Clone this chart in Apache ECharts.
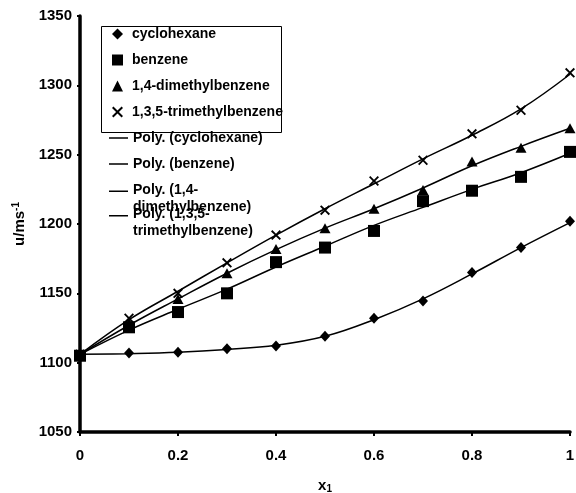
<!DOCTYPE html>
<html>
<head>
<meta charset="utf-8">
<script src="https://cdn.jsdelivr.net/npm/echarts@6/dist/echarts.min.js"></script>
<style>
html,body{margin:0;padding:0;background:#fff;}
#chart{width:576px;height:493px;}
</style>
</head>
<body>
<div id="chart"></div>
<script>
// ---- data ----
var xValues = [0, 0.1, 0.2, 0.3, 0.4, 0.5, 0.6, 0.7, 0.8, 0.9, 1.0];
var cyclohexane = [1105, 1107, 1107.5, 1110, 1112, 1119, 1132, 1144.5, 1165, 1183, 1202];
var benzene = [1105, 1125.5, 1136.5, 1150, 1172.5, 1183, 1195, 1216.5, 1224, 1234, 1252];
var dimethylbenzene = [1106, 1128.5, 1146, 1164.5, 1182, 1197, 1211, 1224.5, 1245, 1255, 1269];
var trimethylbenzene = [1106, 1132, 1150, 1172, 1192, 1210, 1231, 1246, 1265, 1282, 1309];
// trend (polynomial fit) curves as seen in the picture
var trendCyclohexane = [1106, 1106.5, 1107.5, 1109.5, 1112.5, 1119, 1131, 1146, 1164, 1183, 1201];
var trendBenzene = [1106, 1123.5, 1138.5, 1153, 1169, 1184, 1199, 1212, 1225, 1237, 1251];
var trendDimethyl = [1106, 1127, 1146, 1164.5, 1181.5, 1197, 1211, 1226, 1242, 1256, 1269];
var trendTrimethyl = [1106, 1131, 1151.5, 1172, 1192, 1211, 1229, 1247, 1264, 1283, 1308];
var seriesNames = ['cyclohexane', 'benzene', '1,4-dimethylbenzene', '1,3,5-trimethylbenzene'];
var polyNames = ['Poly. (cyclohexane)', 'Poly. (benzene)', 'Poly. (1,4-dimethylbenzene)', 'Poly. (1,3,5-trimethylbenzene)'];
var xTicks = [0, 0.2, 0.4, 0.6, 0.8, 1];
var yTicks = [1050, 1100, 1150, 1200, 1250, 1300, 1350];

function pairs(vals) { return xValues.map(function (x, i) { return [x, vals[i]]; }); }

var FONT = 'Liberation Sans, Arial, sans-serif';
var crossPath = 'path://M0,1.3L1.3,0L5,3.7L8.7,0L10,1.3L6.3,5L10,8.7L8.7,10L5,6.3L1.3,10L0,8.7L3.7,5Z';
var lineIcon = 'path://M0,0H20V1.6H0Z';
var lineIconTop = 'path://M0,0H20V1.6H0ZM0,16.9H0.05V17H0Z';

var legendText = { fontSize: 14, fontWeight: 'bold', fontFamily: FONT, color: '#000' };
var markerStyle = { color: '#000', opacity: 1 };

var chart = echarts.init(document.getElementById('chart'), null, { renderer: 'canvas' });
var option = {
  animation: false,
  backgroundColor: '#fff',
  grid: { left: 80, right: 6, top: 16, bottom: 61, containLabel: false, outerBoundsMode: 'none' },
  xAxis: {
    type: 'value', min: 0, max: 1, interval: 0.2,
    name: 'x{sub|1}', nameLocation: 'middle', nameGap: 46,
    nameTextStyle: { fontSize: 15, fontWeight: 'bold', fontFamily: FONT, color: '#000',
      rich: { sub: { fontSize: 10, fontWeight: 'bold', fontFamily: FONT, verticalAlign: 'bottom', padding: [6, 0, 0, 0] } } },
    axisLine: { lineStyle: { color: '#000', width: 3.5 } },
    axisTick: { show: true, length: 4, lineStyle: { color: '#000', width: 2 } },
    splitLine: { show: false },
    axisLabel: { margin: 16, fontSize: 15, fontWeight: 'bold', fontFamily: FONT, color: '#000',
      formatter: function (v) { return xTicks.indexOf(Math.round(v * 10) / 10) >= 0 ? String(Math.round(v * 10) / 10) : ''; } }
  },
  yAxis: {
    type: 'value', min: 1050, max: 1350, interval: 50,
    name: 'u/ms{sup|-1}', nameLocation: 'middle', nameGap: 42,
    nameTextStyle: { fontSize: 15, fontWeight: 'bold', fontFamily: FONT, color: '#000',
      rich: { sup: { fontSize: 10, fontWeight: 'bold', fontFamily: FONT, verticalAlign: 'top', padding: [0, 0, 8, 0] } } },
    axisLine: { show: true, lineStyle: { color: '#000', width: 3.5 } },
    axisTick: { show: true, length: 3, lineStyle: { color: '#000', width: 2 } },
    splitLine: { show: false },
    axisLabel: { margin: 8, fontSize: 15, fontWeight: 'bold', fontFamily: FONT, color: '#000',
      formatter: function (v) { return yTicks.indexOf(v) >= 0 ? String(v) : ''; } }
  },
  legend: [
    {
      orient: 'vertical', left: 112, top: 27, padding: 0, itemGap: 12,
      itemWidth: 11, itemHeight: 11, selectedMode: false,
      itemStyle: { opacity: 1 },
      textStyle: Object.assign({ padding: [0, 0, 0, 4] }, legendText),
      data: [
        { name: seriesNames[0], icon: 'diamond' },
        { name: seriesNames[1], icon: 'rect' },
        { name: seriesNames[2], icon: 'triangle' },
        { name: seriesNames[3], icon: crossPath }
      ]
    },
    {
      orient: 'vertical', left: 109, top: 131, padding: 0, itemGap: 12,
      itemWidth: 19, itemHeight: 2, selectedMode: false,
      textStyle: legendText,
      data: [{ name: polyNames[0], icon: lineIcon }, { name: polyNames[1], icon: lineIcon }]
    },
    {
      orient: 'vertical', left: 109, top: 181.5, padding: 0,
      itemWidth: 19, itemHeight: 17, selectedMode: false,
      textStyle: Object.assign({ lineHeight: 17 }, legendText),
      formatter: function (n) { return n.replace('(1,4-', '(1,4-\n'); },
      data: [{ name: polyNames[2], icon: lineIconTop }]
    },
    {
      orient: 'vertical', left: 109, top: 206, padding: 0,
      itemWidth: 19, itemHeight: 17, selectedMode: false,
      textStyle: Object.assign({ lineHeight: 17 }, legendText),
      formatter: function (n) { return n.replace('(1,3,5-', '(1,3,5-\n'); },
      data: [{ name: polyNames[3], icon: lineIconTop }]
    }
  ],
  graphic: [
    { type: 'rect', left: 99, top: 24, z: -1, shape: { width: 180, height: 106 },
      style: { fill: 'none', stroke: '#000', lineWidth: 1 } }
  ],
  series: [
    { name: polyNames[0], type: 'line', data: pairs(trendCyclohexane), smooth: 0.4, showSymbol: false, color: '#000', lineStyle: { width: 1.5, color: '#000' }, z: 2 },
    { name: polyNames[1], type: 'line', data: pairs(trendBenzene), smooth: 0.4, showSymbol: false, color: '#000', lineStyle: { width: 1.5, color: '#000' }, z: 2 },
    { name: polyNames[2], type: 'line', data: pairs(trendDimethyl), smooth: 0.4, showSymbol: false, color: '#000', lineStyle: { width: 1.5, color: '#000' }, z: 2 },
    { name: polyNames[3], type: 'line', data: pairs(trendTrimethyl), smooth: 0.4, showSymbol: false, color: '#000', lineStyle: { width: 1.5, color: '#000' }, z: 2 },
    { name: seriesNames[0], type: 'scatter', data: pairs(cyclohexane), symbol: 'diamond', symbolSize: [10, 11], itemStyle: markerStyle, z: 3 },
    { name: seriesNames[1], type: 'scatter', data: pairs(benzene), symbol: 'rect', symbolSize: 12, itemStyle: markerStyle, z: 3 },
    { name: seriesNames[2], type: 'scatter', data: pairs(dimethylbenzene), symbol: 'triangle', symbolSize: [11, 10], itemStyle: markerStyle, z: 3 },
    { name: seriesNames[3], type: 'scatter', data: pairs(trimethylbenzene), symbol: crossPath, symbolSize: 10, itemStyle: markerStyle, z: 3 }
  ]
};
chart.setOption(option);
</script>
</body>
</html>
